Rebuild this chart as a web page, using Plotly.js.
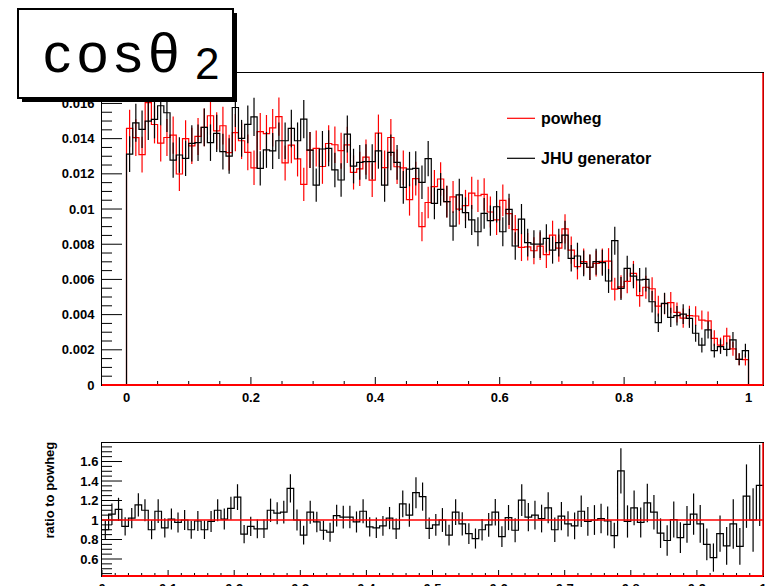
<!DOCTYPE html>
<html><head><meta charset="utf-8">
<script src="https://cdn.plot.ly/plotly-3.0.1.min.js"></script>
<style>html,body{margin:0;padding:0;background:#fff}#chart{width:769px;height:586px}</style>
</head><body><div id="chart"></div>
<script>
// ---- data ----
const binEdges = [0.00,0.01,0.02,0.03,0.04,0.05,0.06,0.07,0.08,0.09,
  0.10,0.11,0.12,0.13,0.14,0.15,0.16,0.17,0.18,0.19,
  0.20,0.21,0.22,0.23,0.24,0.25,0.26,0.27,0.28,0.29,
  0.30,0.31,0.32,0.33,0.34,0.35,0.36,0.37,0.38,0.39,
  0.40,0.41,0.42,0.43,0.44,0.45,0.46,0.47,0.48,0.49,
  0.50,0.51,0.52,0.53,0.54,0.55,0.56,0.57,0.58,0.59,
  0.60,0.61,0.62,0.63,0.64,0.65,0.66,0.67,0.68,0.69,
  0.70,0.71,0.72,0.73,0.74,0.75,0.76,0.77,0.78,0.79,
  0.80,0.81,0.82,0.83,0.84,0.85,0.86,0.87,0.88,0.89,
  0.90,0.91,0.92,0.93,0.94,0.95,0.96,0.97,0.98,0.99,1.00];

const jhuGenerator = [
  0.01312,0.01490,0.01453,0.01500,0.01510,0.01587,0.01547,0.01278,0.01307,0.01288,
  0.01373,0.01377,0.01464,0.01377,0.01430,0.01326,0.01301,0.01577,0.01402,0.01481,
  0.01524,0.01231,0.01336,0.01330,0.01388,0.01388,0.01458,0.01388,0.01511,0.01335,
  0.01136,0.01341,0.01345,0.01222,0.01165,0.01426,0.01244,0.01265,0.01269,0.01269,
  0.01331,0.01136,0.01322,0.01265,0.01123,0.01227,0.01231,0.01152,0.01286,0.01032,
  0.01112,0.01042,0.00903,0.01080,0.00979,0.00938,0.00871,0.00975,0.00934,0.01013,
  0.00871,0.00998,0.00790,0.00943,0.00809,0.00801,0.00801,0.00833,0.00767,0.00809,
  0.00852,0.00720,0.00733,0.00691,0.00669,0.00701,0.00695,0.00591,0.00820,0.00549,
  0.00663,0.00619,0.00597,0.00600,0.00473,0.00354,0.00464,0.00384,0.00394,0.00403,
  0.00379,0.00294,0.00227,0.00313,0.00195,0.00218,0.00203,0.00256,0.00146,0.00195];

const ratioToPowheg = [
  0.90,1.06,1.11,0.935,1.02,1.155,1.10,0.90,1.09,0.92,
  1.01,0.975,1.00,0.90,0.99,0.90,0.985,1.10,1.01,1.12,
  1.235,0.855,0.935,0.91,0.91,1.10,1.07,1.08,1.325,1.00,
  0.845,1.08,0.98,0.895,0.875,1.045,1.03,1.03,0.98,1.09,
  0.93,0.92,0.94,1.02,0.91,1.165,1.05,1.28,1.24,0.915,
  0.95,1.00,0.845,1.08,0.96,0.86,0.81,0.90,0.95,1.08,
  0.83,1.025,0.895,1.205,1.03,1.05,1.015,1.125,0.90,1.04,
  0.96,0.94,1.09,0.985,1.00,1.015,0.99,0.84,1.505,0.985,
  1.125,0.975,1.175,1.08,0.865,0.79,1.005,0.82,0.955,1.06,
  0.96,0.75,0.615,0.86,0.735,0.96,0.73,1.245,1.00,1.355];

const seriesNames = ['powheg', 'JHU generator'];
const ratioTitle = 'ratio to powheg';
const statScale = 7.8e-5;   // per-bin variance scale

// ---- derived ----
const powheg = jhuGenerator.map((v, i) => v / ratioToPowheg[i]);
const centers = jhuGenerator.map((v, i) => (binEdges[i] + binEdges[i + 1]) / 2);
const errJ = jhuGenerator.map(v => Math.sqrt(v * statScale));
const errP = powheg.map(v => Math.sqrt(v * statScale));
const errR = ratioToPowheg.map((r, i) => r * Math.sqrt(statScale / jhuGenerator[i] + statScale / powheg[i]));

function histOutline(vals) {
  const x = [binEdges[0]], y = [0];
  vals.forEach((v, i) => { x.push(binEdges[i]); y.push(v); });
  x.push(binEdges[vals.length]); y.push(0);
  return {x, y};
}
function openSteps(vals) {
  const x = [], y = [];
  vals.forEach((v, i) => { x.push(binEdges[i]); y.push(v); });
  x.push(binEdges[vals.length]); y.push(vals[vals.length - 1]);
  return {x, y};
}

const hP = histOutline(powheg), hJ = histOutline(jhuGenerator), hR = openSteps(ratioToPowheg);
const LW = 1.2;
function errTrace(x, y, e, color, xa, ya) {
  return {x, y, type: 'scatter', mode: 'markers', marker: {size: 2, color, opacity: 0},
    error_y: {type: 'data', array: e, visible: true, width: 0, thickness: LW, color},
    xaxis: xa, yaxis: ya, hoverinfo: 'skip', showlegend: false};
}
function stepTrace(h, color, xa, ya, name) {
  return {x: h.x, y: h.y, type: 'scatter', mode: 'lines', name,
    line: {color, width: LW, shape: 'hv'}, xaxis: xa, yaxis: ya, hoverinfo: 'skip', showlegend: false};
}

const traces = [
  errTrace(centers, powheg, errP, 'red', 'x', 'y'),
  stepTrace(hP, 'red', 'x', 'y', seriesNames[0]),
  errTrace(centers, jhuGenerator, errJ, 'black', 'x', 'y'),
  stepTrace(hJ, 'black', 'x', 'y', seriesNames[1]),
  errTrace(centers, ratioToPowheg, errR, 'black', 'x2', 'y2'),
  stepTrace(hR, 'black', 'x2', 'y2', 'ratio')
];

// ---- layout ----
const W = 769, H = 586, L = 102, R = 6, T = 73, B = 10;
const PW = W - L - R, PH = H - T - B;
const px = p => (p - L) / PW;
const py = p => (H - B - p) / PH;
const FONT = 'Liberation Sans, Arial, Helvetica, sans-serif';
const tickFont = {family: FONT, size: 13, weight: 'bold', color: 'black'};

const topX = [-0.0394, 1.0233], topY = [0, 0.01773], botX = [0, 1], botY = [0.4256, 1.79];
const topDomain = [py(385), 1], botDomain = [0, py(443)];
const topHpx = 385 - 73, botHpx = 576 - 443;

function mainAxis(extra) {
  return Object.assign({
    showline: true, mirror: true, linecolor: 'black', linewidth: 1,
    showgrid: false, zeroline: false, ticks: '', tickfont: tickFont
  }, extra);
}

// ROOT-style inward tick marks (major + minor), placed through the axes' own scales
function tickShapes(range, minorStep, perMajor, majorLen, minorLen, axisLetter, xa, ya, lenPx) {
  const out = [];
  const k0 = Math.ceil(range[0] / minorStep - 1e-9), k1 = Math.floor(range[1] / minorStep + 1e-9);
  for (let k = k0; k <= k1; k++) {
    const v = k * minorStep;
    const len = (k % perMajor === 0 ? majorLen : minorLen) / lenPx;
    const line = {color: 'black', width: 1};
    if (axisLetter === 'y') {
      out.push({type: 'line', xref: xa + ' domain', yref: ya, x0: 0, x1: len, y0: v, y1: v, line});
    } else {
      out.push({type: 'line', xref: xa, yref: ya + ' domain', x0: v, x1: v, y0: 0, y1: len, line});
    }
  }
  return out;
}

const ticks = [].concat(
  tickShapes(topY, 0.0005, 4, 20, 10, 'y', 'x', 'y', PW),
  tickShapes(topX, 0.05, 4, 8, 4, 'x', 'x', 'y', topHpx),
  tickShapes(botY, 0.05, 4, 20, 10, 'y', 'x2', 'y2', PW),
  tickShapes(botX, 0.02, 5, 6, 3, 'x', 'x2', 'y2', botHpx)
);

const layout = {
  width: W, height: H, margin: {l: L, r: R, t: T, b: B, pad: 0},
  paper_bgcolor: 'white', plot_bgcolor: 'white', showlegend: false,
  font: {family: FONT, color: 'black'},
  xaxis: mainAxis({domain: [0, 1], anchor: 'y', range: topX, tick0: 0, dtick: 0.2}),
  yaxis: mainAxis({domain: topDomain, anchor: 'x', range: topY, tick0: 0, dtick: 0.002, ticklabelstandoff: 4}),
  xaxis2: mainAxis({domain: [0, 1], anchor: 'y2', range: botX, tick0: 0, dtick: 0.1}),
  yaxis2: mainAxis({domain: botDomain, anchor: 'x2', range: botY, tick0: 0, dtick: 0.2}),
  shapes: ticks.concat([
    {type: 'line', xref: 'x domain', yref: 'y domain', x0: 0, x1: 1, y0: 0, y1: 0, line: {color: 'red', width: 2}},
    {type: 'line', xref: 'x domain', yref: 'y domain', x0: 1, x1: 1, y0: 0, y1: 1, line: {color: 'red', width: 1.5}},
    {type: 'line', xref: 'x2 domain', yref: 'y2 domain', x0: 0, x1: 1, y0: 0, y1: 0, line: {color: 'red', width: 2}},
    {type: 'line', xref: 'x2 domain', yref: 'y2 domain', x0: 1, x1: 1, y0: 0, y1: 1, line: {color: 'red', width: 1.5}},
    {type: 'line', xref: 'x2 domain', yref: 'y2', x0: 0, x1: 1, y0: 1, y1: 1, line: {color: 'red', width: 1.6}},
    // title box shadow + box
    {type: 'rect', xref: 'paper', yref: 'paper', x0: px(22), x1: px(237), y0: py(102), y1: py(13),
      fillcolor: 'black', line: {width: 0}},
    {type: 'rect', xref: 'paper', yref: 'paper', x0: px(18), x1: px(233), y0: py(98), y1: py(9),
      fillcolor: 'white', line: {color: 'black', width: 2}},
    // legend samples
    {type: 'line', xref: 'paper', yref: 'paper', x0: px(507), x1: px(535), y0: py(118.3), y1: py(118.3), line: {color: 'red', width: 1.2}},
    {type: 'line', xref: 'paper', yref: 'paper', x0: px(507), x1: px(535), y0: py(158.3), y1: py(158.3), line: {color: 'black', width: 1.2}}
  ]),
  annotations: [
    {text: '<span style="letter-spacing:6px">cosθ</span>', xref: 'paper', yref: 'paper', x: px(41), y: py(52), xanchor: 'left', yanchor: 'middle',
      showarrow: false, font: {family: FONT, size: 56, color: 'black'}},
    {text: '2', xref: 'paper', yref: 'paper', x: px(193), y: py(63.5), xanchor: 'left', yanchor: 'middle',
      showarrow: false, font: {family: FONT, size: 44, color: 'black'}},
    {text: seriesNames[0], xref: 'paper', yref: 'paper', x: px(539), y: py(118.3), xanchor: 'left', yanchor: 'middle',
      showarrow: false, font: {family: FONT, size: 16, weight: 'bold', color: 'black'}},
    {text: seriesNames[1], xref: 'paper', yref: 'paper', x: px(539), y: py(158.8), xanchor: 'left', yanchor: 'middle',
      showarrow: false, font: {family: FONT, size: 16, weight: 'bold', color: 'black'}},
    {text: ratioTitle, xref: 'paper', yref: 'paper', x: px(48.5), y: py(490), xanchor: 'center', yanchor: 'middle',
      textangle: -90, showarrow: false, font: {family: FONT, size: 13, weight: 'bold', color: 'black'}}
  ]
};

Plotly.newPlot('chart', traces, layout, {staticPlot: true, displayModeBar: false});
</script>
</body></html>
